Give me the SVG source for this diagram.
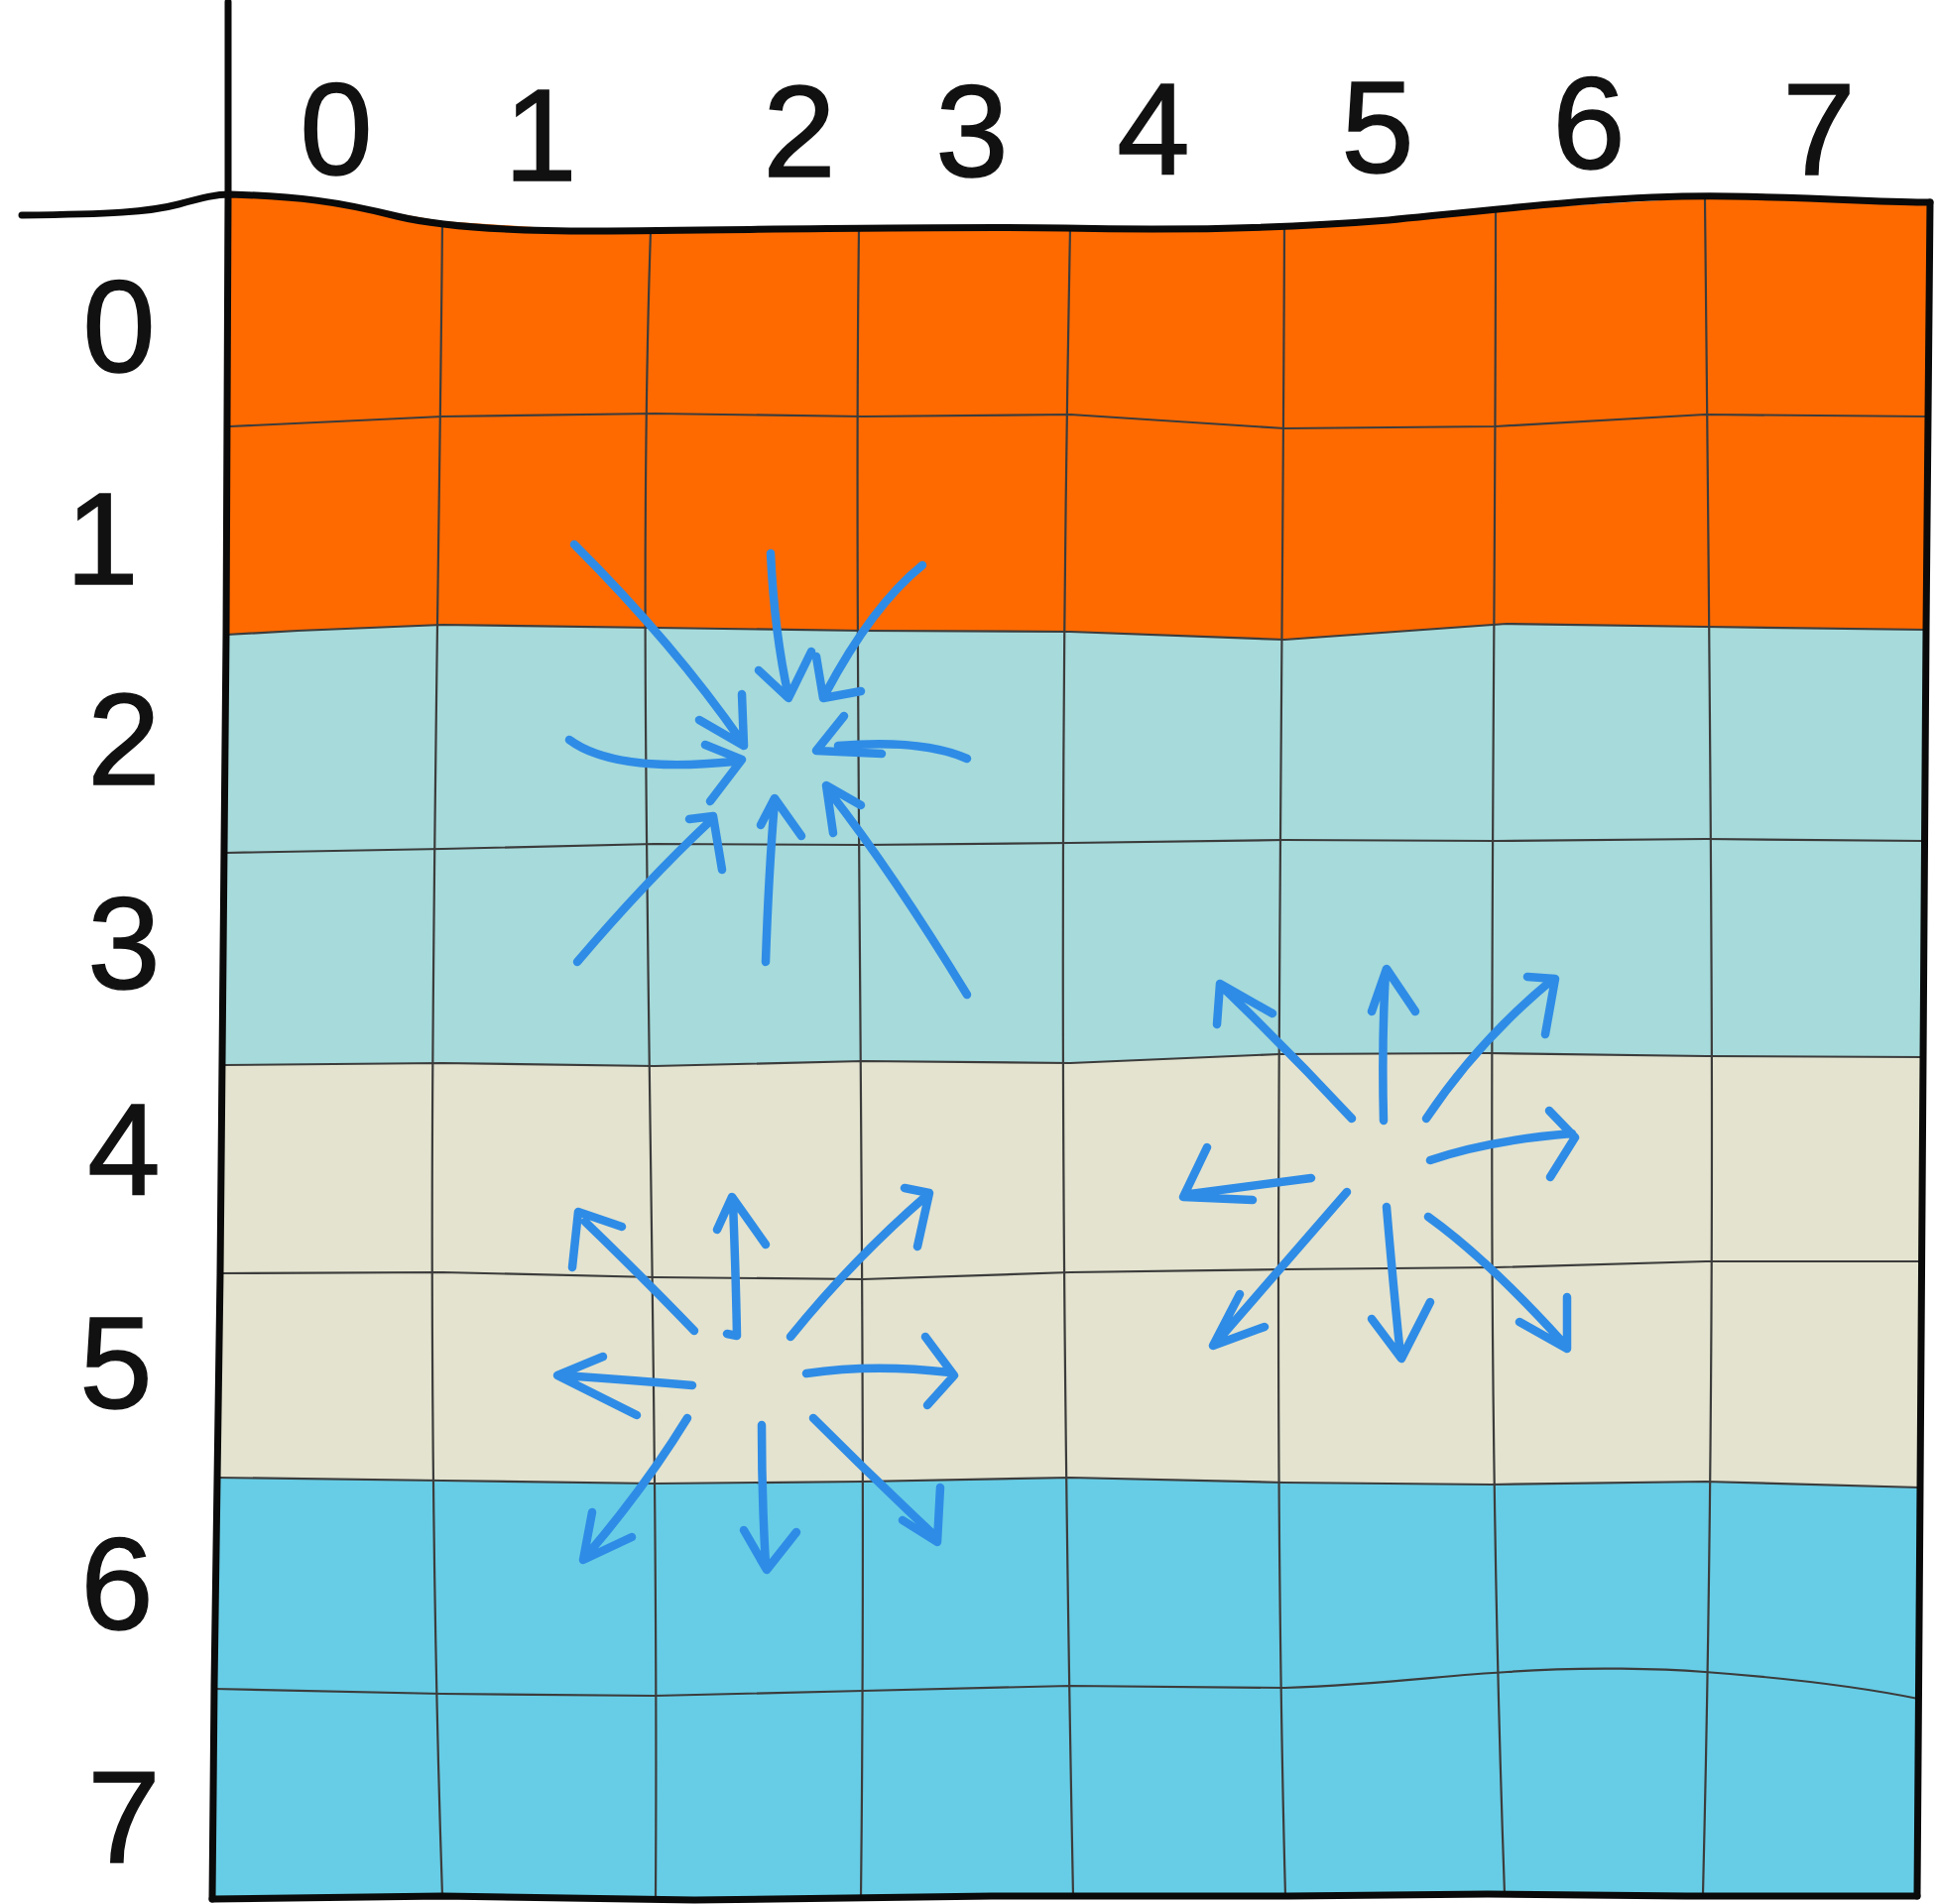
<svg xmlns="http://www.w3.org/2000/svg" width="1954" height="1920" viewBox="0 0 1954 1920">
<style>
.lbl{font-family:"Liberation Sans","DejaVu Sans",sans-serif;font-size:132px;fill:#111;stroke:#111;stroke-width:1.5;text-anchor:middle}
.gl{fill:none;stroke:#3c3c3c;stroke-width:2.2;stroke-linejoin:round}
.bd{fill:none;stroke:#0a0a0a;stroke-width:7;stroke-linejoin:round;stroke-linecap:round}
.ar{fill:none;stroke:#2F8CE6;stroke-width:8.5;stroke-linecap:round;stroke-linejoin:round}
</style>
<rect width="1954" height="1920" fill="#ffffff"/>
<g id="bands">
<path fill="#FF6A00" d="M230,196 L340,205 L446,223 L600,233 L870,232 L1074,230 L1250,233 L1400,222 L1519,211 L1744,198 L1946,204 L1942,635 L1719,632 L1519,629 L1295,645 L1079,637 L870,636 L660,633 L446,630 L300,636 L228,640 Z"/>
<path fill="#A6DADB" d="M228,640 L300,636 L446,630 L660,633 L870,636 L1079,637 L1295,645 L1519,629 L1719,632 L1942,635 L1940,1066 L1720,1065 L1500,1062 L1290,1063 L1079,1072 L870,1070 L660,1075 L446,1072 L226,1074 Z"/>
<path fill="#E3E3CF" d="M226,1074 L446,1072 L660,1075 L870,1070 L1079,1072 L1290,1063 L1500,1062 L1720,1065 L1940,1066 L1936,1500 L1720,1494 L1504,1497 L1295,1495 L1079,1490 L870,1494 L660,1496 L446,1493 L218,1490 Z"/>
<path fill="#67CDE6" d="M218,1490 L446,1493 L660,1496 L870,1494 L1079,1490 L1295,1495 L1504,1497 L1720,1494 L1936,1500 L1933,1912 L1700,1912 L1500,1910 L1300,1912 L1000,1912 L700,1916 L446,1912 L214,1915 Z"/>
</g>
<g id="grid">
<polyline class="gl" points="232,430 340,425 446,420 660,417 870,420 1079,418 1295,432 1508,430 1719,418 1944,420"/>
<polyline class="gl" points="228,640 300,636 446,630 660,633 870,636 1079,637 1295,645 1519,629 1719,632 1942,635"/>
<polyline class="gl" points="227,860 446,856 660,851 870,852 1079,850 1295,847 1508,848 1720,846 1940,848"/>
<polyline class="gl" points="226,1074 446,1072 660,1075 870,1070 1079,1072 1290,1063 1500,1062 1720,1065 1940,1066"/>
<polyline class="gl" points="222,1284 446,1283 660,1288 870,1290 1079,1283 1295,1280 1508,1278 1720,1272 1938,1272"/>
<polyline class="gl" points="218,1490 446,1493 660,1496 870,1494 1079,1490 1295,1495 1504,1497 1720,1494 1936,1500"/>
<path class="gl" d="M216,1703 L446,1708 L660,1710 L870,1705 L1079,1700 L1295,1702 C1400,1698 1450,1690 1520,1686 C1600,1680 1680,1683 1719,1686 C1800,1692 1880,1702 1934,1713"/>
<path class="gl" d="M446,223 C442,700 425,1300 446,1912"/>
<path class="gl" d="M656,233 C640,700 665,1300 661,1914"/>
<path class="gl" d="M866,232 C860,700 875,1300 868,1914"/>
<path class="gl" d="M1079,230 C1068,800 1070,1300 1082,1912"/>
<path class="gl" d="M1295,225 C1293,800 1282,1400 1296,1912"/>
<path class="gl" d="M1508,212 C1508,800 1495,1300 1517,1910"/>
<path class="gl" d="M1719,200 C1725,800 1732,1300 1717,1910"/>
</g>
<g id="border">
<path class="bd" d="M230,2 L230,196 L228,640 L222,1284 L216,1700 L214,1915"/>
<path class="bd" d="M22,217 C110,216 150,214 180,206 C205,199 218,196 232,196 C300,198 340,203 400,218 C450,230 520,233 600,233 C750,232 950,228 1074,230 C1200,233 1300,230 1400,222 C1520,210 1640,196 1744,198 C1850,200 1900,204 1946,204"/>
<path class="bd" d="M1946,204 L1942,635 L1936,1500 L1933,1912"/>
<path class="bd" d="M214,1915 L446,1912 L700,1916 L1000,1912 L1300,1912 L1500,1910 L1700,1912 L1933,1912"/>
</g>
<g id="col-labels">
<text class="lbl" x="339" y="176">0</text>
<text class="lbl" x="545" y="182">1</text>
<text class="lbl" x="806" y="178">2</text>
<text class="lbl" x="980" y="178">3</text>
<text class="lbl" x="1163" y="176">4</text>
<text class="lbl" x="1389" y="174">5</text>
<text class="lbl" x="1602" y="170">6</text>
<text class="lbl" x="1834" y="176">7</text>
</g>
<g id="row-labels">
<text class="lbl" x="120" y="375">0</text>
<text class="lbl" x="103" y="589">1</text>
<text class="lbl" x="125" y="791">2</text>
<text class="lbl" x="125" y="997">3</text>
<text class="lbl" x="125" y="1205">4</text>
<text class="lbl" x="117" y="1420">5</text>
<text class="lbl" x="118" y="1643">6</text>
<text class="lbl" x="125" y="1878">7</text>
</g>
<g id="connectors">
<g id="burst-in">
<path class="ar" d="M579,549 Q680,650 748,748 M705,726 L750,752 L748,700"/>
<path class="ar" d="M777,558 Q781,640 795,702 M765,676 L795,704 L818,657"/>
<path class="ar" d="M930,570 Q880,610 832,700 M868,697 L830,704 L823,662"/>
<path class="ar" d="M975,765 Q930,745 845,752 M851,722 L823,757 L889,760"/>
<path class="ar" d="M975,1003 Q900,880 836,798 M868,812 L833,792 L840,840"/>
<path class="ar" d="M772,970 Q775,880 781,808 M767,832 L781,805 L808,843"/>
<path class="ar" d="M582,970 Q650,890 716,828 M695,826 L719,823 L728,877"/>
<path class="ar" d="M574,746 Q620,780 740,768 M711,751 L748,766 L716,808"/>
</g>
<g id="burst-out-right">
<path class="ar" d="M1363,1128 Q1300,1060 1232,995 M1227,1033 L1230,992 L1283,1022"/>
<path class="ar" d="M1395,1130 Q1393,1050 1397,980 M1383,1020 L1398,977 L1427,1020"/>
<path class="ar" d="M1438,1128 Q1490,1050 1565,988 M1540,985 L1568,987 L1558,1043"/>
<path class="ar" d="M1442,1170 Q1500,1150 1585,1143 M1562,1120 L1588,1147 L1563,1187"/>
<path class="ar" d="M1440,1227 Q1500,1270 1577,1355 M1580,1308 L1580,1360 L1532,1333"/>
<path class="ar" d="M1398,1217 Q1405,1300 1412,1367 M1383,1330 L1413,1370 L1442,1313"/>
<path class="ar" d="M1358,1202 Q1290,1280 1226,1354 M1250,1305 L1223,1357 L1275,1338"/>
<path class="ar" d="M1322,1188 Q1270,1195 1200,1204 M1217,1157 L1193,1207 L1263,1210"/>
</g>
<g id="burst-out-left">
<path class="ar" d="M700,1342 Q650,1290 590,1232 M577,1278 L583,1222 L627,1237"/>
<path class="ar" d="M733,1345 L743,1347 Q742,1290 739,1212 M723,1240 L738,1207 L772,1255"/>
<path class="ar" d="M797,1348 Q860,1270 935,1205 M912,1198 L937,1203 L925,1257"/>
<path class="ar" d="M813,1385 Q880,1375 958,1384 M933,1348 L962,1387 L935,1417"/>
<path class="ar" d="M820,1430 Q880,1490 944,1550 M948,1500 L945,1555 L910,1533"/>
<path class="ar" d="M768,1437 Q768,1510 772,1578 M750,1543 L773,1583 L803,1545"/>
<path class="ar" d="M693,1430 Q650,1500 592,1568 M597,1525 L588,1573 L637,1550"/>
<path class="ar" d="M698,1397 Q640,1392 568,1387 M608,1368 L562,1387 L642,1427"/>
</g>
</g>
</svg>
